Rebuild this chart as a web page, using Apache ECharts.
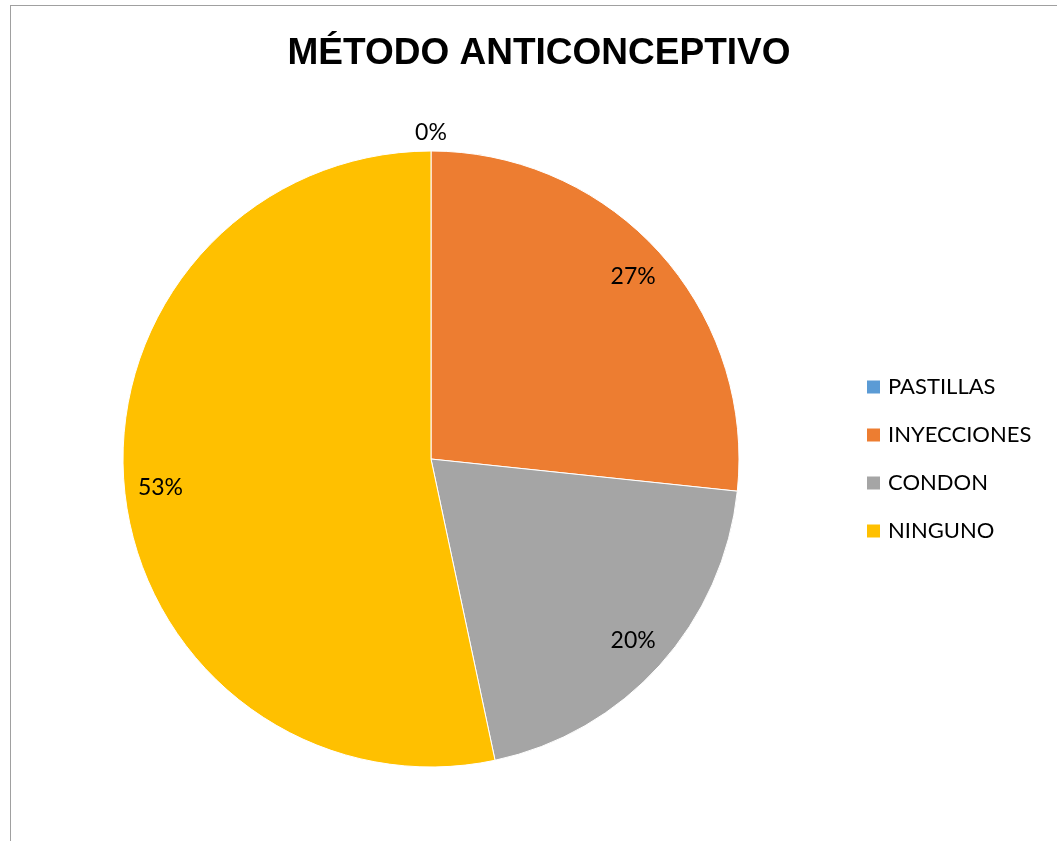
<!DOCTYPE html>
<html>
<head>
<meta charset="utf-8">
<script src="https://cdn.jsdelivr.net/npm/echarts@6/dist/echarts.min.js"></script>
<style>
html,body{margin:0;padding:0;background:#fff;}
#frame{position:absolute;left:10px;top:5px;width:1200px;height:1000px;border:1.5px solid #a0a0a0;box-sizing:border-box;}
#chart{position:absolute;left:0;top:0;width:1057px;height:841px;}
</style>
</head>
<body>
<div id="frame"></div>
<div id="chart"></div>
<script>
const titleText = 'MÉTODO ANTICONCEPTIVO';
const categories = ['PASTILLAS', 'INYECCIONES', 'CONDON', 'NINGUNO'];
const values = [0, 4, 3, 8];
const colors = ['#5B9BD5', '#ED7D31', '#A5A5A5', '#FFC000'];

const total = values.reduce((a, b) => a + b, 0);
const pct = v => Math.round(v / total * 100) + '%';

const center = [431, 459];
const R = 308;
const txtFont = 'Lato, "Open Sans", sans-serif';

const mainData = categories.map((c, i) => ({ name: c, value: values[i], itemStyle: { color: colors[i] } }));
const labelData = categories.map((c, i) => ({
  name: c, value: values[i],
  label: { show: values[i] > 0 }
}));
const zeroData = categories.map((c, i) => ({
  name: c, value: values[i],
  label: { show: values[i] === 0 }
}));

const chart = echarts.init(document.getElementById('chart'), null, { renderer: 'canvas' });
chart.setOption({
  animation: false,
  backgroundColor: 'transparent',
  title: {
    text: titleText,
    left: 534, top: 30, textAlign: 'center',
    textStyle: { fontFamily: '"Liberation Sans", Arial, sans-serif', fontWeight: 'bold', fontSize: 37, color: '#000' }
  },
  legend: {
    orient: 'vertical',
    left: 865, top: 376, padding: 0,
    icon: 'rect', itemWidth: 15, itemHeight: 15, itemGap: 26,
    data: categories,
    textStyle: { fontFamily: txtFont, fontSize: 22, color: '#000', lineHeight: 22, padding: [0, 0, 0, 2] }
  },
  series: [
    {
      type: 'pie', center: center, radius: [0, R],
      startAngle: 90, clockwise: true,
      data: mainData,
      label: { show: false }, labelLine: { show: false },
      itemStyle: { borderColor: '#fff', borderWidth: 1 },
      emphasis: { disabled: true }, silent: true
    },
    {
      type: 'pie', center: center, radius: [R - 78, R],
      startAngle: 90, clockwise: true,
      data: labelData,
      itemStyle: { color: 'transparent' },
      label: { position: 'inside', formatter: p => pct(p.value), fontFamily: txtFont, fontSize: 23, color: '#000' },
      labelLine: { show: false },
      emphasis: { disabled: true }, silent: true
    },
    {
      type: 'pie', center: center, radius: [R, R + 30],
      startAngle: 90, clockwise: true,
      data: zeroData,
      itemStyle: { color: 'transparent' },
      label: { position: 'inside', formatter: p => pct(p.value), fontFamily: txtFont, fontSize: 23, color: '#000' },
      labelLine: { show: false },
      emphasis: { disabled: true }, silent: true
    }
  ]
});
</script>
</body>
</html>
